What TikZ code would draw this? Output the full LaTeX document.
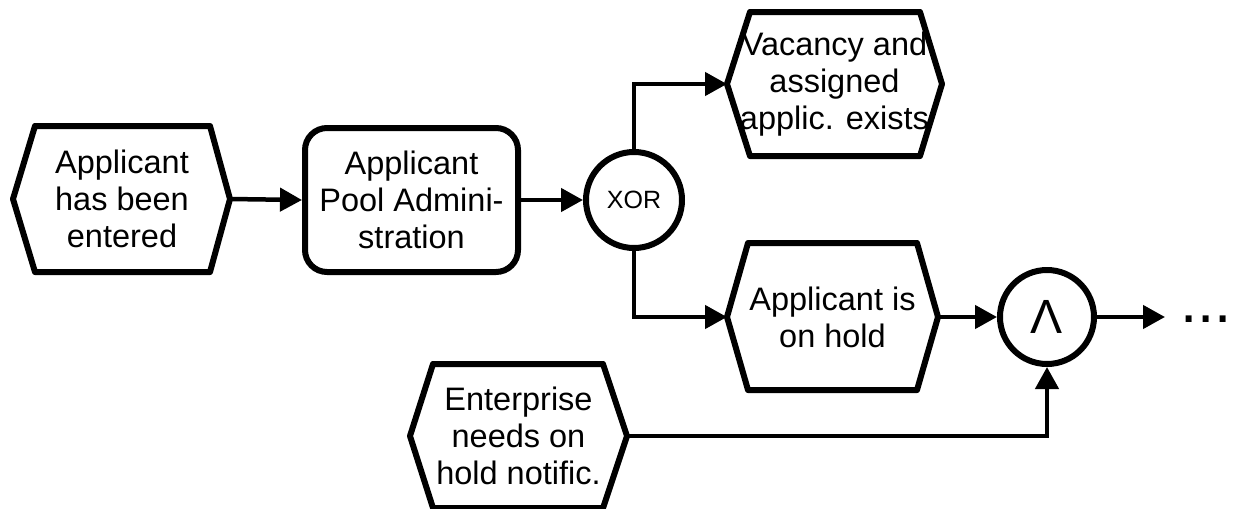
\documentclass[tikz,border=0pt]{standalone}
\usepackage{fontspec}
\setmainfont{Liberation Sans}
\usetikzlibrary{arrows.meta}
\begin{document}
\begin{tikzpicture}[x=1pt,y=-1pt,
  txt/.style={align=center, font=\fontsize{32.5}{37}\selectfont, inner sep=0pt},
  border/.style={line width=6pt, line join=round},
  conn/.style={line width=4.5pt, -{Triangle[length=22pt,width=23pt]}},
]
\useasboundingbox (0,0) rectangle (1235,509);

% event texts
\node[txt] (entered) at (122,199) {Applicant\\has been\\entered};
\node[txt] (vacancy) at (834.5,84) {Vacancy and\\assigned\\applic. exists};
\node[txt] (hold) at (832.5,317) {Applicant is\\on hold};
\node[txt] (enterprise) at (518.5,436) {Enterprise\\needs on\\hold notific.};

% event hexagons
\draw[border] (35,126) -- (210,126) -- (230,199) -- (210,272) -- (35,272) -- (13,199) -- cycle;
\draw[border] (750,12) -- (920,12) -- (942,84) -- (920,156) -- (750,156) -- (727,84) -- cycle;
\draw[border] (748,243) -- (917,243) -- (938,317) -- (917,390) -- (748,390) -- (727,317) -- cycle;
\draw[border] (433,364) -- (603,364) -- (627,436) -- (603,508) -- (433,508) -- (410,436) -- cycle;

% hexagon tips
\coordinate (enteredE) at (230,199);
\coordinate (vacancyW) at (727,84);
\coordinate (holdW) at (727,317);
\coordinate (holdE) at (938,317);
\coordinate (enterpriseE) at (627,436);

% function
\node[txt, draw, border, rounded corners=22pt, minimum width=213pt, minimum height=144pt] (pool) at (411.5,200) {Applicant\\Pool Admini-\\stration};

% connectors (operators)
\node[circle, draw, border, minimum size=96pt, inner sep=0pt, font=\fontsize{25}{28}\selectfont] (xor) at (634,200) {XOR};
\node[circle, draw, border, minimum size=94pt, inner sep=0pt, font=\fontsize{48}{48}\selectfont] (and) at (1047,317) {Λ};

% continuation
\coordinate (andOut) at (1165,317);
\node[anchor=base west, inner sep=0pt, font=\fontsize{62}{62}\selectfont] (more) at (1180,322) {...};

% control flow
\draw[conn] (enteredE) -- (pool.west);
\draw[conn] (pool.east) -- (xor.west);
\draw[conn] (xor.north) |- (vacancyW);
\draw[conn] (xor.south) |- (holdW);
\draw[conn] (holdE) -- (and.west);
\draw[conn] (enterpriseE) -| (and.south);
\draw[conn] (and.east) -- (andOut);
\end{tikzpicture}
\end{document}
